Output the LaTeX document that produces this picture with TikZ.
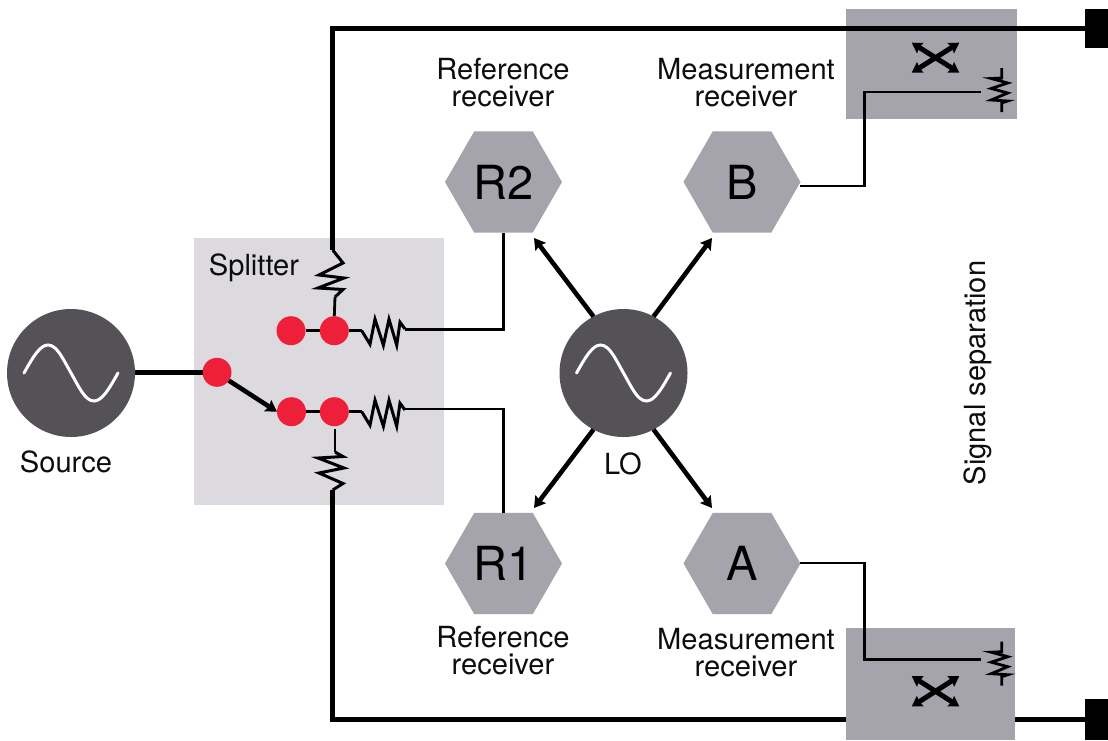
\documentclass[tikz,border=0pt]{standalone}
\usepackage{fontspec}
\setmainfont{TeX Gyre Heros}
\usetikzlibrary{shapes.geometric,arrows.meta}
\definecolor{boxgray}{HTML}{A5A3AB}
\definecolor{splitgray}{HTML}{DCDADF}
\definecolor{oscgray}{HTML}{545157}
\definecolor{dotred}{HTML}{EE2039}
\tikzset{
  lab/.style={font=\fontsize{29.1}{27}\selectfont,align=center,inner sep=0pt,text=black!95},
  hexnode/.style={regular polygon,regular polygon sides=6,minimum size=117pt,inner sep=0pt,outer sep=0pt,fill=boxgray,font=\fontsize{47}{47}\selectfont},
  osc/.style={circle,minimum size=128pt,inner sep=0pt,outer sep=0pt,fill=oscgray},
  dot/.style={circle,minimum size=29pt,inner sep=0pt,outer sep=0pt,fill=dotred},
  term/.style={rectangle,inner sep=0pt,outer sep=0pt,fill=black},
  heavy/.style={line width=4.5pt,draw=black},
  wire/.style={line width=2.8pt,draw=black},
  tipped/.style={line width=4.6pt,draw=black,-{Stealth[length=11pt,width=13pt,inset=1.5pt]}},
  both/.style={line width=5pt,draw=black,{Stealth[length=10pt,width=12pt,inset=1pt]}-{Stealth[length=10pt,width=12pt,inset=1pt]}},
  wave/.style={line width=3pt,draw=white,line cap=round},
  zig/.style={line width=3pt,draw=black},
  sinewave/.pic={\draw[wave] (-47,0) .. controls (-38,-16) and (-31,-28) .. (-23,-28) .. controls (-14,-28) and (-8,-14) .. (0,0) .. controls (8,14) and (14,28) .. (23,28) .. controls (31,28) and (38,16) .. (47,0);},
  hres/.pic={\draw[zig] (0,0) -- (8.3,13.5) -- (13.3,-11.5) -- (21.7,14.5) -- (27.3,-11.5) -- (35,14.5) -- (38.3,-8.5) -- (43.3,-1.7);},
  cres/.pic={\draw[line width=2.8pt,draw=black] (0,0) -- (0,10) -- (-10.5,10.5) -- (6,15) -- (-10.5,20.5) -- (6,25) -- (-10.5,32) -- (6,33) -- (0,35) -- (0,44);},
}
\begin{document}
\begin{tikzpicture}[x=1pt,y=-1pt]
\useasboundingbox (0,0) rectangle (1108,740);
% coordinates for free ends and bends
\coordinate (vtopA) at (332.7,250);
\coordinate (vtopB) at (335,297);
\coordinate (vbotA) at (332.7,490);
\coordinate (vbotB) at (335,452);
\coordinate (vbotC) at (335,429);
\coordinate (htEnd) at (405,329.3);
\coordinate (hbEnd) at (405,409);
\coordinate (tipRtwo) at (534,238);
\coordinate (tipB) at (712,238);
\coordinate (tipRone) at (534,508);
\coordinate (tipA) at (712,508);
\coordinate (tcplEnd) at (981,92);
\coordinate (bcplEnd) at (981,659.5);
\coordinate (bwireIn) at (800,186);
\coordinate (awireIn) at (800,563);
\coordinate (tXa) at (911.7,42.7);
\coordinate (tXb) at (959.3,72.7);
\coordinate (tXc) at (911.7,72.7);
\coordinate (tXd) at (959.3,42.7);
\coordinate (bXa) at (911.7,676);
\coordinate (bXb) at (959.3,706.5);
\coordinate (bXc) at (911.7,706.5);
\coordinate (bXd) at (959.3,676);
% terminals
\node[term,minimum width=23pt,minimum height=39pt] (tTerm) at (1096.5,28.5) {};
\node[term,minimum width=23pt,minimum height=41pt] (bTerm) at (1096.5,719.5) {};
% boxes
\node[rectangle,fill=splitgray,minimum width=250pt,minimum height=267pt,inner sep=0pt] (split) at (319,371.5) {};
% lower through line sits behind the coupler box
\draw[heavy] (vbotA) |- (bTerm.west);
\node[rectangle,fill=boxgray,minimum width=171pt,minimum height=110pt,inner sep=0pt] (tBox) at (931.5,64) {};
\node[rectangle,fill=boxgray,minimum width=169pt,minimum height=112pt,inner sep=0pt] (bBox) at (930.5,684) {};
% upper through line
\draw[heavy] (vtopA) -- (vtopA |- tTerm.west) -- (tTerm.west);
% hexagons
\node[hexnode] (Rtwo) at (503.5,182) {R2};
\node[hexnode] (B) at (742,182) {B};
\node[hexnode] (Rone) at (503.5,563.5) {R1};
\node[hexnode] (A) at (742,563.5) {A};
% oscillators
\node[osc] (src) at (71,373) {};
\node[osc] (LO) at (623.5,373) {};
\pic at (71,373) {sinewave};
\pic at (623.5,373) {sinewave};
% dots
\node[dot] (dIn) at (217,372.3) {};
\node[dot] (dTl) at (291,330.7) {};
\node[dot] (dTr) at (334.3,330.7) {};
\node[dot] (dBl) at (291.5,411.7) {};
\node[dot] (dBr) at (334.3,411.7) {};
% connectors
\draw[heavy] (src.east |- dIn) -- (dIn.west);
\draw[tipped] (dIn.-35) -- (dBl.west);
\draw[wire] (dTl) -- (dTr);
\draw[wire] (dBl) -- (dBr);
\draw[wire] (vtopB) -- (dTr.north);
\draw[wire] (vbotC) -- (vbotB);
\draw[wire] (dTr.east) -- (361.7,330.7);
\draw[wire] (dBr.east) -- (361.7,411.7);
\pic at (361.7,330.7) {hres};
\pic at (361.7,411.7) {hres};
\draw[wire] (htEnd) -| (Rtwo.south);
\draw[wire] (hbEnd) -| (Rone.north);
% splitter branch resistors
\draw[zig] (vtopA) -- (343,263) -- (319,275) -- (344,278) -- (318,288) -- (343,289.5) -- (vtopB);
\draw[zig] (vbotA) -- (343,483.5) -- (319,473) -- (344,468) -- (318,458) -- (343,456.5) -- (vbotB);
% LO arrows
\draw[tipped] (LO.118) -- (tipRtwo);
\draw[tipped] (LO.62) -- (tipB);
\draw[tipped] (LO.242) -- (tipRone);
\draw[tipped] (LO.-62) -- (tipA);
% receiver to coupler wires
\draw[wire] (bwireIn) -- (864.3,186) |- (tcplEnd);
\draw[wire] (awireIn) -- (864.3,563) |- (bcplEnd);
% couplers
\pic at (1001.7,68) {cres};
\pic at (1001.7,641.7) {cres};
\draw[both] (tXa) -- (tXb);
\draw[both] (tXc) -- (tXd);
\draw[both] (bXa) -- (bXb);
\draw[both] (bXc) -- (bXd);
% labels
\node[lab] (lRtwo) at (503,82.5) {Reference\\receiver};
\node[lab] (lB) at (746,82.5) {Measurement\\receiver};
\node[lab] (lRone) at (503,650.5) {Reference\\receiver};
\node[lab] (lA) at (746,652.5) {Measurement\\receiver};
\node[lab] (lSrc) at (66,462) {Source};
\node[lab] (lSplit) at (254,268) {Splitter};
\node[lab] (lLO) at (623,464) {LO};
\node[lab,rotate=90] (lSig) at (978,373) {Signal separation};
\end{tikzpicture}
\end{document}
